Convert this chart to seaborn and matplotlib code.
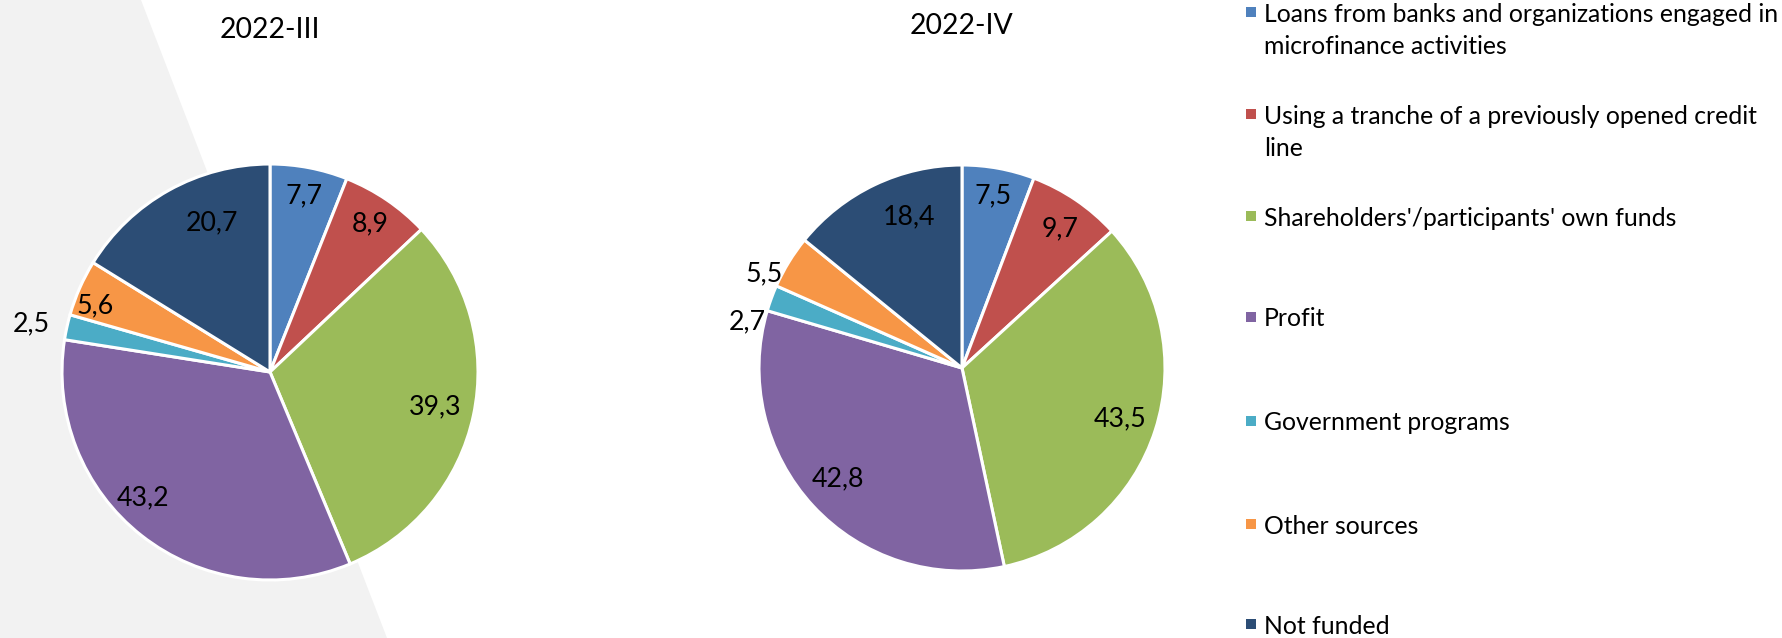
import matplotlib
matplotlib.use('Agg')
import matplotlib.pyplot as plt
import seaborn as sns
import numpy as np
from matplotlib.patches import Polygon, Rectangle

# data (shares of respondents, %, several answers allowed)
periods = ['2022-III', '2022-IV']
categories = [
    'Loans from banks and organizations engaged in\nmicrofinance activities',
    'Using a tranche of a previously opened credit\nline',
    "Shareholders'/participants' own funds",
    'Profit',
    'Government programs',
    'Other sources',
    'Not funded',
]
values_2022_3 = [7.7, 8.9, 39.3, 43.2, 2.5, 5.6, 20.7]
values_2022_4 = [7.5, 9.7, 43.5, 42.8, 2.7, 5.5, 18.4]

sns.set_theme(style='white')
plt.rcParams['font.family'] = ['Lato', 'DejaVu Sans']

colors = sns.color_palette(['#4F81BD', '#C0504D', '#9BBB59', '#8064A2',
                            '#4BACC6', '#F79646', '#2C4D75'])

W, H = 1783, 638
fig = plt.figure(figsize=(W / 100, H / 100), dpi=100)
fig.patch.set_facecolor('white')

# full-figure layer in pixel coordinates (background shape, titles, legend)
lay = fig.add_axes([0, 0, 1, 1], zorder=0)
lay.set_xlim(0, W)
lay.set_ylim(H, 0)
lay.axis('off')
lay.add_patch(Polygon([(0, 0), (141, 0), (387, H), (0, H)], closed=True,
                      facecolor='#F2F2F2', edgecolor='none'))


def fmt(v):
    return f'{v:.1f}'.replace('.', ',')


def draw_pie(values, title, cx, cy, r, title_y, label_r, label_da):
    ax = fig.add_axes([(cx - r) / W, (H - cy - r) / H, 2 * r / W, 2 * r / H], zorder=1)
    ax.patch.set_visible(False)
    wedges, _ = ax.pie(values, colors=colors, startangle=90, counterclock=False,
                       wedgeprops=dict(edgecolor='white', linewidth=2.2))
    ax.set_xlim(-1, 1)
    ax.set_ylim(-1, 1)
    for w, v, lr, da in zip(wedges, values, label_r, label_da):
        ang = np.deg2rad((w.theta1 + w.theta2) / 2 + da)
        ax.text(lr * np.cos(ang), lr * np.sin(ang), fmt(v), ha='center', va='center',
                fontsize=19.3, color='black')
    lay.text(cx, title_y, title, ha='center', va='center', fontsize=20.4, color='black')


draw_pie(values_2022_3, periods[0], 270, 372, 208, 30,
         [0.86, 0.86, 0.81, 0.86, 1.17, 0.90, 0.77],
         [0, 0, 0, -7, 1, 3, -8])
draw_pie(values_2022_4, periods[1], 962, 368, 203, 26,
         [0.86, 0.84, 0.82, 0.82, 1.08, 1.08, 0.79],
         [0, -1, 0, -1, 8, 6, -6])

# legend, one text per line so the first line sits beside the marker
leg_y = [12, 114, 216, 317, 421, 524, 624]
line_gap = 32
for label, c, y in zip(categories, colors, leg_y):
    lay.add_patch(Rectangle((1246, y - 5), 10, 10, facecolor=c, edgecolor='none'))
    for k, line in enumerate(label.split('\n')):
        lay.text(1264, y + k * line_gap, line, ha='left', va='center_baseline',
                 fontsize=17.8, color='black')

fig.savefig('out.png', dpi=100)
